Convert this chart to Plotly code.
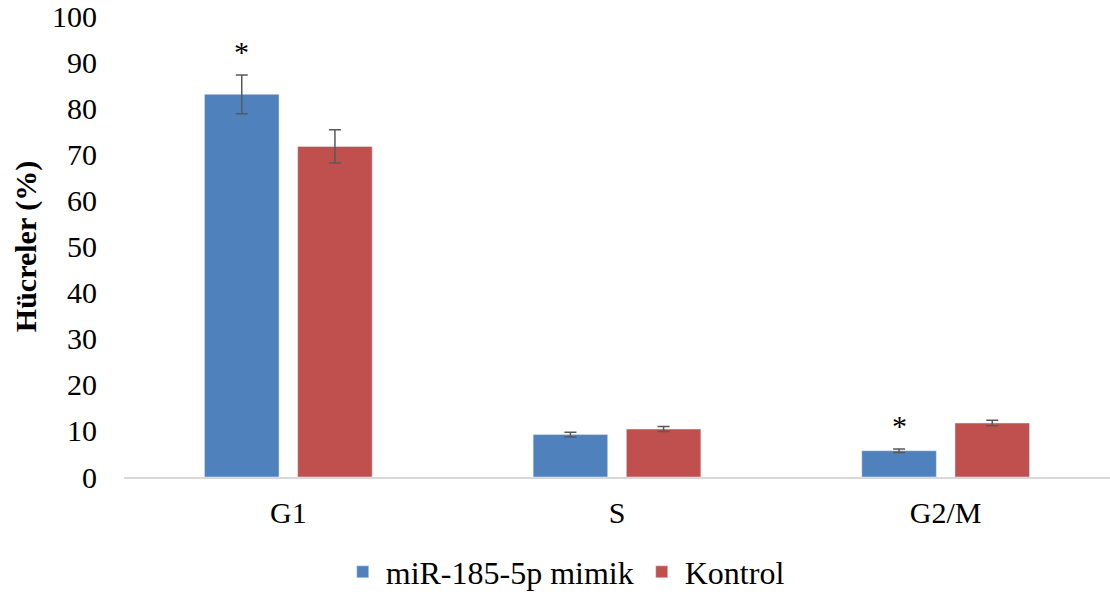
import plotly.graph_objects as go

categories = ["G1", "S", "G2/M"]
mimik = [83.0, 9.2, 5.7]
mimik_err = [4.2, 0.5, 0.4]
kontrol = [71.7, 10.4, 11.7]
kontrol_err = [3.6, 0.55, 0.6]
y_ticks = list(range(0, 101, 10))
significant = [True, False, True]

font_family = "Liberation Serif"

fig = go.Figure()
fig.add_trace(go.Bar(
    name="miR-185-5p mimik", x=categories, y=mimik,
    marker=dict(color="#4F81BD"),
    error_y=dict(type="data", array=mimik_err, color="#595959", thickness=1.5, width=6),
))
fig.add_trace(go.Bar(
    name="Kontrol", x=categories, y=kontrol,
    marker=dict(color="#C0504D"),
    error_y=dict(type="data", array=kontrol_err, color="#595959", thickness=1.5, width=6),
))

for i, (cat, v, e, s) in enumerate(zip(categories, mimik, mimik_err, significant)):
    if s:
        fig.add_annotation(x=i - 0.1415, y=v + e, xref="x", yref="y", text="*",
                           showarrow=False, yanchor="bottom", yshift=5,
                           font=dict(family=font_family, size=30, color="black"))

fig.update_layout(
    width=1110, height=594,
    margin=dict(l=124, r=0, t=16, b=117, autoexpand=False),
    paper_bgcolor="white", plot_bgcolor="white",
    barmode="group", bargap=0.433, bargroupgap=0.2,
    font=dict(family=font_family, size=30, color="black"),
    showlegend=True,
    legend=dict(orientation="h", x=0.447, xanchor="center",
                yref="container", y=0.037, yanchor="middle",
                font=dict(family=font_family, size=32, color="black"),
                itemwidth=36, tracegroupgap=0),
    xaxis=dict(showline=True, linecolor="#d9d9d9", linewidth=1.5, ticks="",
               showgrid=False, tickfont=dict(family=font_family, size=30),
               ticklabelstandoff=8, automargin=False),
    yaxis=dict(range=[0, 100], tickvals=y_ticks, showgrid=False, showline=False,
               zeroline=False, ticks="", ticklabelstandoff=26,
               ticklabeloverflow="allow", automargin=False,
               tickfont=dict(family=font_family, size=30),
               title=dict(text="<b>Hücreler (%)</b>", font=dict(family=font_family, size=30),
                          standoff=6)),
)

fig.write_html("out.html")
